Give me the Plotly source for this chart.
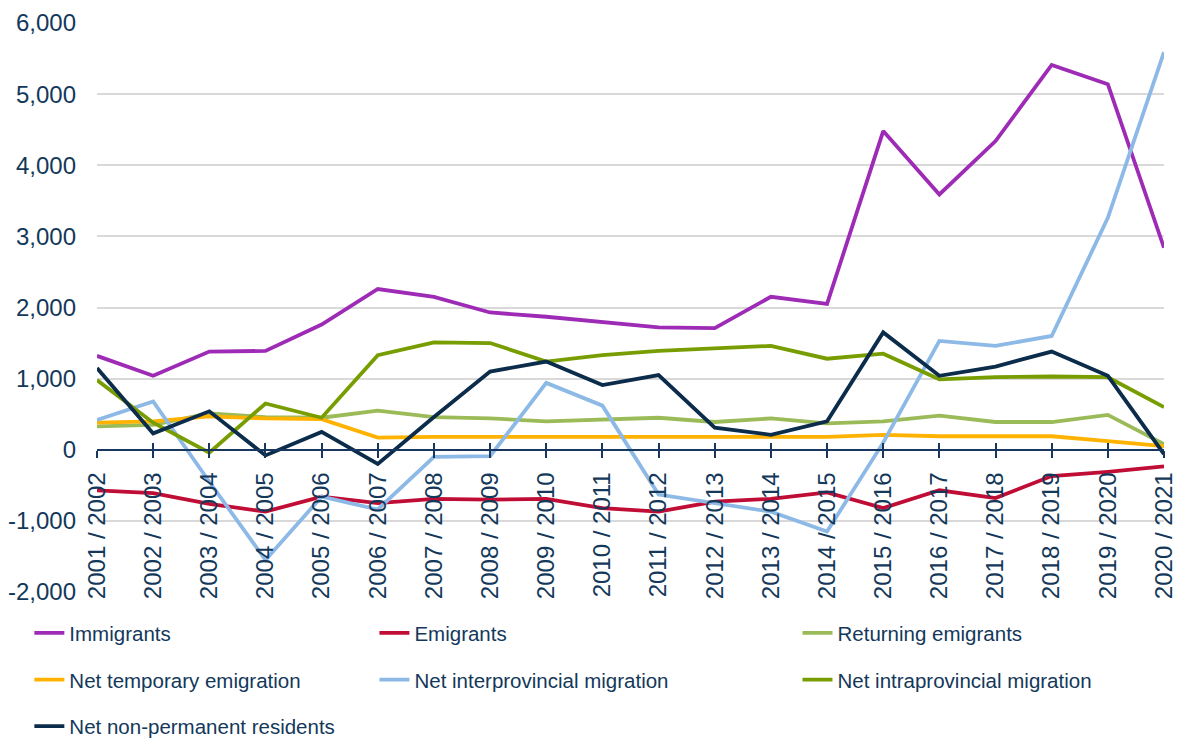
import plotly.graph_objects as go

categories = ["2001 / 2002", "2002 / 2003", "2003 / 2004", "2004 / 2005", "2005 / 2006",
              "2006 / 2007", "2007 / 2008", "2008 / 2009", "2009 / 2010", "2010 / 2011",
              "2011 / 2012", "2012 / 2013", "2013 / 2014", "2014 / 2015", "2015 / 2016",
              "2016 / 2017", "2017 / 2018", "2018 / 2019", "2019 / 2020", "2020 / 2021"]

immigrants = [1320, 1040, 1380, 1390, 1760, 2260, 2150, 1930, 1870, 1800,
              1720, 1710, 2150, 2050, 4480, 3590, 4340, 5410, 5140, 2840]
emigrants = [-570, -610, -760, -870, -660, -750, -690, -700, -690, -820,
             -870, -730, -690, -600, -820, -570, -680, -370, -310, -235]
returning_emigrants = [330, 350, 510, 460, 450, 550, 460, 440, 400, 430,
                       450, 390, 440, 370, 400, 480, 390, 390, 490, 80]
net_temporary_emigration = [380, 400, 470, 440, 430, 170, 180, 180, 180, 180,
                            190, 190, 190, 180, 210, 190, 190, 190, 120, 50]
net_interprovincial = [420, 680, -450, -1550, -660, -840, -100, -90, 940, 620,
                       -630, -750, -870, -1150, 100, 1530, 1460, 1600, 3260, 5590]
net_intraprovincial = [980, 380, -40, 650, 450, 1330, 1510, 1500, 1240, 1330,
                       1390, 1420, 1460, 1280, 1350, 990, 1020, 1030, 1020, 600]
net_non_permanent = [1150, 230, 540, -80, 250, -200, 460, 1100, 1240, 910,
                     1050, 310, 210, 400, 1650, 1040, 1170, 1380, 1040, -60]

y_ticks = [-2000, -1000, 0, 1000, 2000, 3000, 4000, 5000, 6000]
y_tick_labels = ["-2,000", "-1,000", "0", "1,000", "2,000", "3,000", "4,000", "5,000", "6,000"]

series = [
    ("Immigrants", immigrants, "#9E2BB5", "legend"),
    ("Emigrants", emigrants, "#C00D35", "legend2"),
    ("Returning emigrants", returning_emigrants, "#9BBB59", "legend3"),
    ("Net temporary emigration", net_temporary_emigration, "#FFB300", "legend"),
    ("Net interprovincial migration", net_interprovincial, "#8DB9E6", "legend2"),
    ("Net intraprovincial migration", net_intraprovincial, "#789D00", "legend3"),
    ("Net non-permanent residents", net_non_permanent, "#0B2C4A", "legend"),
]

TEXT = "#13385A"
FONT = "Liberation Sans, Arial, sans-serif"

fig = go.Figure()
for i, (name, vals, color, lg) in enumerate(series):
    fig.add_trace(go.Scatter(
        x=categories, y=vals, name=name, mode="lines",
        line=dict(color=color, width=3.8),
        legend=lg, legendgroup=f"g{i}",
    ))

# dummy trace for the upper half of the crossing tick marks
fig.add_trace(go.Scatter(x=categories, y=[None] * len(categories), xaxis="x2",
                         showlegend=False, hoverinfo="skip"))

legend_common = dict(
    orientation="v", xanchor="left", yanchor="top",
    font=dict(family=FONT, size=20.5, color=TEXT),
    bgcolor="rgba(0,0,0,0)", tracegroupgap=17, itemwidth=30,
)

fig.update_layout(
    width=1171, height=731,
    margin=dict(l=89, r=15, t=15, b=147, autoexpand=False),
    paper_bgcolor="white", plot_bgcolor="white",
    font=dict(family=FONT, size=24, color=TEXT),
    xaxis=dict(
        type="category", range=[0, len(categories) - 1],
        anchor="free", position=0.25, automargin=False,
        showgrid=False, showline=True, linecolor="#17375E", linewidth=2,
        ticks="outside", ticklen=7, tickwidth=2, tickcolor="#17375E",
        tickangle=-90, tickfont=dict(size=24, color=TEXT), ticklabelstandoff=5,
        zeroline=False,
    ),
    xaxis2=dict(
        type="category", range=[0, len(categories) - 1], overlaying="x",
        anchor="free", position=0.25, automargin=False,
        showgrid=False, showline=False,
        ticks="inside", ticklen=7, tickwidth=2, tickcolor="#17375E",
        showticklabels=False, zeroline=False,
    ),
    yaxis=dict(
        range=[-2000, 6000], tickvals=y_ticks, ticktext=y_tick_labels,
        automargin=False,
        showgrid=True, gridcolor="#D9D9D9", gridwidth=1.5,
        zeroline=False, showline=False, ticks="",
        tickfont=dict(size=24, color=TEXT), ticklabelstandoff=20,
    ),
    legend=dict(x=-0.0634, y=-0.0370, **legend_common),
    legend2=dict(x=0.2600, y=-0.0370, **legend_common),
    legend3=dict(x=0.6565, y=-0.0370, **legend_common),
    showlegend=True,
)

fig.write_html("out.html")
